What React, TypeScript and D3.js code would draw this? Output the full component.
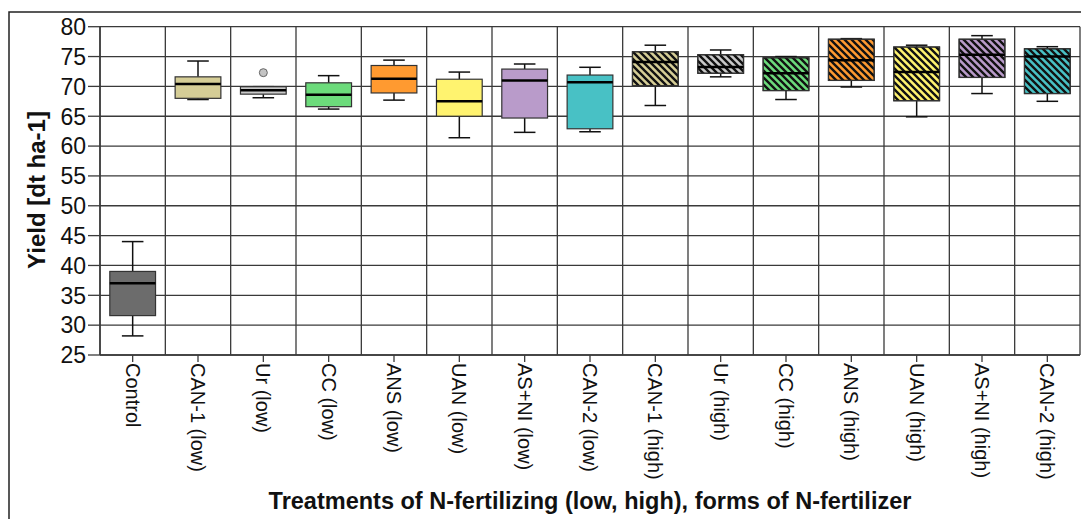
import React from "react";
import * as d3 from "d3";

const categories = [
  "Control", "CAN-1 (low)", "Ur (low)", "CC (low)", "ANS (low)", "UAN (low)", "AS+NI (low)", "CAN-2 (low)",
  "CAN-1 (high)", "Ur (high)", "CC (high)", "ANS (high)", "UAN (high)", "AS+NI (high)", "CAN-2 (high)",
];
const whiskerLow = [28.2, 67.8, 68.1, 66.2, 67.7, 61.4, 62.3, 62.4, 66.8, 71.6, 67.8, 69.9, 64.9, 68.8, 67.5];
const q1 = [31.6, 68.0, 68.7, 66.6, 68.9, 65.0, 64.7, 62.9, 70.1, 72.2, 69.3, 71.0, 67.6, 71.5, 68.8];
const median = [37.0, 70.4, 69.35, 68.6, 71.3, 67.5, 71.0, 70.7, 74.1, 73.25, 72.2, 74.4, 72.4, 75.3, 75.0];
const q3 = [39.0, 71.6, 69.95, 70.6, 73.5, 71.2, 72.9, 71.9, 75.8, 75.3, 74.8, 77.9, 76.6, 77.9, 76.3];
const whiskerHigh = [44.0, 74.25, 69.95, 71.8, 74.4, 72.4, 73.75, 73.2, 76.9, 76.1, 75.0, 78.0, 76.9, 78.5, 76.65];
const outliers: [number, number][] = [[2, 72.3]];
const colors = [
  "#6c6c6c", "#d5cd96", "#c9c9c9", "#6cdb7b", "#ff9a30", "#fff36f", "#b99bca", "#48c1c5",
  "#d5cd96", "#c9c9c9", "#6cdb7b", "#ff9a30", "#fff36f", "#b99bca", "#48c1c5",
];
const hatched = [false, false, false, false, false, false, false, false, true, true, true, true, true, true, true];
const yTicks = [25, 30, 35, 40, 45, 50, 55, 60, 65, 70, 75, 80];
const yLabel = "Yield [dt ha-1]";
const xLabel = "Treatments of N-fertilizing (low, high), forms of N-fertilizer";

const FONT = "'Liberation Sans', Arial, sans-serif";

export default function App() {
  const W = 1081, H = 519;
  const left = 100, right = 1080, top = 26.7, bottom = 355;
  const x = d3.scaleBand<string>().domain(categories).range([left, right]).padding(0);
  const y = d3.scaleLinear().domain([25, 80]).range([bottom, top]);
  const bw = x.bandwidth();
  const boxW = bw * 0.7;
  const capW = bw * 0.33;
  const grid = "#3a3a3a";

  return (
    <svg width={W} height={H} style={{ position: "absolute", left: 0, top: 0 }} fontFamily={FONT}>
      <defs>
        <pattern id="hatch" patternUnits="userSpaceOnUse" width={7} height={7}>
          <path d="M-1,-1 L8,8 M-4.5,2.5 L1.5,8.5 M5.5,-1.5 L8.5,1.5" stroke="#111" strokeWidth={2.4} />
        </pattern>
      </defs>
      <rect x={0} y={0} width={W} height={H} fill="#fff" />
      <rect x={9} y={12} width={1100} height={600} fill="none" stroke="#222" strokeWidth={1.5} />

      {yTicks.map((t) => (
        <g key={"y" + t}>
          <line x1={left} x2={right} y1={y(t)} y2={y(t)} stroke={grid} strokeWidth={1.3} />
          <line x1={88} x2={left} y1={y(t)} y2={y(t)} stroke={grid} strokeWidth={1.3} />
          <text x={86} y={y(t)} dy="0.36em" textAnchor="end" fontSize={23} fill="#111">
            {t}
          </text>
        </g>
      ))}
      {categories.map((c, i) => (
        <line key={"v" + i} x1={x(c)!} x2={x(c)!} y1={top} y2={bottom} stroke={grid} strokeWidth={1.3} />
      ))}
      <line x1={right} x2={right} y1={top} y2={bottom} stroke={grid} strokeWidth={1.3} />

      {categories.map((c, i) => {
        const cx = x(c)! + bw / 2;
        const x0 = cx - boxW / 2;
        return (
          <g key={"b" + i}>
            <line x1={cx} x2={cx} y1={y(whiskerHigh[i])} y2={y(q3[i])} stroke="#111" strokeWidth={1.5} />
            <line x1={cx} x2={cx} y1={y(q1[i])} y2={y(whiskerLow[i])} stroke="#111" strokeWidth={1.5} />
            <line x1={cx - capW / 2} x2={cx + capW / 2} y1={y(whiskerHigh[i])} y2={y(whiskerHigh[i])} stroke="#111" strokeWidth={1.5} />
            <line x1={cx - capW / 2} x2={cx + capW / 2} y1={y(whiskerLow[i])} y2={y(whiskerLow[i])} stroke="#111" strokeWidth={1.5} />
            <rect x={x0} y={y(q3[i])} width={boxW} height={y(q1[i]) - y(q3[i])} fill={colors[i]} stroke="#333" strokeWidth={1.2} />
            {hatched[i] && (
              <rect x={x0} y={y(q3[i])} width={boxW} height={y(q1[i]) - y(q3[i])} fill="url(#hatch)" stroke="#333" strokeWidth={1.2} />
            )}
            <line x1={x0} x2={x0 + boxW} y1={y(median[i])} y2={y(median[i])} stroke="#000" strokeWidth={2.5} />
          </g>
        );
      })}
      {outliers.map(([i, v], k) => (
        <circle key={"o" + k} cx={x(categories[i])! + bw / 2} cy={y(v)} r={4} fill="#c4c4c4" stroke="#666" strokeWidth={1} />
      ))}

      <line x1={left} x2={right} y1={bottom} y2={bottom} stroke={grid} strokeWidth={1.5} />
      <line x1={left} x2={left} y1={top} y2={bottom} stroke={grid} strokeWidth={1.5} />
      {categories.map((c, i) => {
        const cx = x(c)! + bw / 2;
        return (
          <g key={"xt" + i}>
            <line x1={cx} x2={cx} y1={bottom} y2={bottom + 7} stroke={grid} strokeWidth={1.3} />
            <text
              transform={`translate(${cx},${bottom + 8}) rotate(90)`}
              dy="0.35em"
              textAnchor="start"
              fontSize={20}
              fill="#111"
            >
              {c}
            </text>
          </g>
        );
      })}

      <text x={590} y={509} textAnchor="middle" fontSize={23.5} fontWeight="bold" fill="#111">
        {xLabel}
      </text>
      <text transform={`translate(45,190) rotate(-90)`} textAnchor="middle" fontSize={24} fontWeight="bold" fill="#111">
        {yLabel}
      </text>
    </svg>
  );
}
